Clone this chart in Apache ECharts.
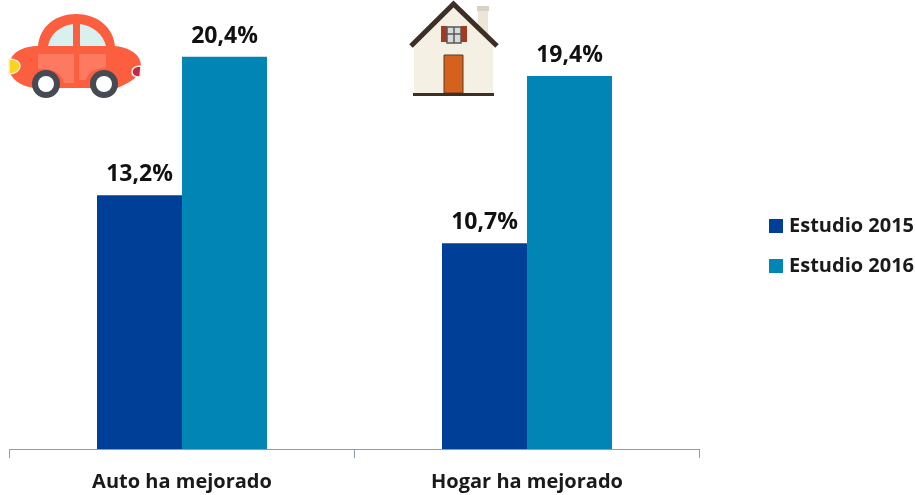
<!DOCTYPE html>
<html>
<head>
<meta charset="utf-8">
<style>
  html, body { margin: 0; padding: 0; background: #fff; }
  #main { width: 915px; height: 495px; }
</style>
<script src="https://cdn.jsdelivr.net/npm/echarts@6/dist/echarts.min.js"></script>
</head>
<body>
<div id="main"></div>
<script>
const categories = ['Auto ha mejorado', 'Hogar ha mejorado']
const seriesNames = ['Estudio 2015', 'Estudio 2016']
const estudio2015 = [13.2, 10.7]
const estudio2016 = [20.4, 19.4]

const fontFamily = '"Open Sans", sans-serif'
const labelFormatter = p => p.value.toFixed(1).replace('.', ',') + '%'

// graphic no tiene tipo 'path', se registra cada forma
let shapeCount = 0
function svgPath (d, style) {
  const name = 'icono' + shapeCount++
  echarts.graphic.registerShape(name, echarts.graphic.extendPath(d, {}))
  return { type: name, style }
}

// iconos decorativos
const carIcon = {
  type: 'group',
  silent: true,
  children: [
    svgPath('M38 46 C40 26 56 14 76 14 C96 14 113 26 115 46 C125 47 141 52 141 66 C141 76 130 83 117 88 L34 88 C20 86 9 78 9 67 C9 52 24 46 38 46 Z', { fill: '#fb5f3f' }),
    svgPath('M48 46 C50 34 60 26 73 24 L73 46 Z', { fill: '#d9f1ee' }),
    svgPath('M80 24 C93 26 103 34 106 46 L80 46 Z', { fill: '#d9f1ee' }),
    svgPath('M38 54 L74 54 L74 83 L64 83 C62 74 54 69 44 69 L38 69 Z', { fill: '#fd7a60' }),
    svgPath('M79 54 L106 54 L106 68 C96 68 88 72 86 80 L79 80 Z', { fill: '#fd7a60' }),
    { type: 'circle', shape: { cx: 46, cy: 84, r: 14 }, style: { fill: '#464a52' } },
    { type: 'circle', shape: { cx: 46, cy: 84, r: 8 }, style: { fill: '#fff' } },
    { type: 'circle', shape: { cx: 104, cy: 84, r: 14 }, style: { fill: '#464a52' } },
    { type: 'circle', shape: { cx: 104, cy: 84, r: 8 }, style: { fill: '#fff' } },
    svgPath('M9 59 C16 59 20 62 20 66 C20 70 16 74 9 74 Z', { fill: '#fbd31c', stroke: '#fdeee0', lineWidth: 1.5 }),
    svgPath('M141 66 C136 66 132 68 132 72 C132 75 135 77 140 77 Z', { fill: '#c2284e', stroke: '#fdeee0', lineWidth: 1.5 })
  ]
}

const houseIcon = {
  type: 'group',
  silent: true,
  children: [
    { type: 'rect', shape: { x: 478, y: 8, width: 10, height: 26 }, style: { fill: '#ece6d8' } },
    { type: 'rect', shape: { x: 477, y: 6, width: 12, height: 5 }, style: { fill: '#d8d2c4' } },
    { type: 'polygon', shape: { points: [[453, 6], [493, 45], [493, 94], [414, 94], [414, 45]] }, style: { fill: '#f5f0e4' } },
    { type: 'polyline', shape: { points: [[411, 46], [453.5, 4], [497, 46]] }, style: { fill: 'none', stroke: '#3d2f26', lineWidth: 5 } },
    { type: 'rect', shape: { x: 441, y: 26, width: 6, height: 16 }, style: { fill: '#a53a20' } },
    { type: 'rect', shape: { x: 461, y: 26, width: 6, height: 16 }, style: { fill: '#a53a20' } },
    { type: 'rect', shape: { x: 447, y: 27, width: 14, height: 16 }, style: { fill: '#d8dbd8', stroke: '#55585a', lineWidth: 1.5 } },
    { type: 'line', shape: { x1: 454, y1: 27, x2: 454, y2: 43 }, style: { stroke: '#55585a', lineWidth: 1.5 } },
    { type: 'line', shape: { x1: 447, y1: 34, x2: 461, y2: 34 }, style: { stroke: '#55585a', lineWidth: 1.5 } },
    { type: 'rect', shape: { x: 444, y: 55, width: 19, height: 38 }, style: { fill: '#d4621c', stroke: '#5d3a20', lineWidth: 1 } },
    { type: 'rect', shape: { x: 413, y: 93, width: 81, height: 3 }, style: { fill: '#3d2f26' } }
  ]
}

const option = {
  backgroundColor: '#fff',
  animation: false,
  color: ['#003f98', '#0085b5'],
  grid: { left: 9.5, right: 215.5, top: 26, bottom: 46 },
  legend: {
    orient: 'vertical',
    left: 764,
    top: 211,
    icon: 'rect',
    itemWidth: 14,
    itemHeight: 14,
    itemGap: 20,
    data: seriesNames,
    textStyle: { fontFamily, fontSize: 20, fontWeight: 700, color: '#1a1a1a', padding: [2, 0, 0, 1] }
  },
  xAxis: {
    type: 'category',
    data: categories,
    axisLine: { lineStyle: { color: '#8d99c4', width: 1 } },
    axisTick: { show: true, length: 9, lineStyle: { color: '#8d99c4' } },
    axisLabel: { margin: 23, color: '#1a1a1a', fontFamily, fontSize: 20, fontWeight: 700 }
  },
  yAxis: {
    type: 'value',
    min: 0,
    max: 22,
    show: false,
    splitLine: { show: false }
  },
  series: [
    {
      name: seriesNames[0],
      type: 'bar',
      barWidth: 85,
      barGap: 0,
      data: estudio2015,
      label: { show: true, position: 'top', distance: 9, formatter: labelFormatter, fontFamily, fontSize: 23, fontWeight: 700, color: '#111' }
    },
    {
      name: seriesNames[1],
      type: 'bar',
      barWidth: 85,
      barGap: 0,
      data: estudio2016,
      label: { show: true, position: 'top', distance: 9, formatter: labelFormatter, fontFamily, fontSize: 23, fontWeight: 700, color: '#111' }
    }
  ],
  graphic: [carIcon, houseIcon]
}

const chart = echarts.init(document.getElementById('main'))
chart.setOption(option)
</script>
</body>
</html>
